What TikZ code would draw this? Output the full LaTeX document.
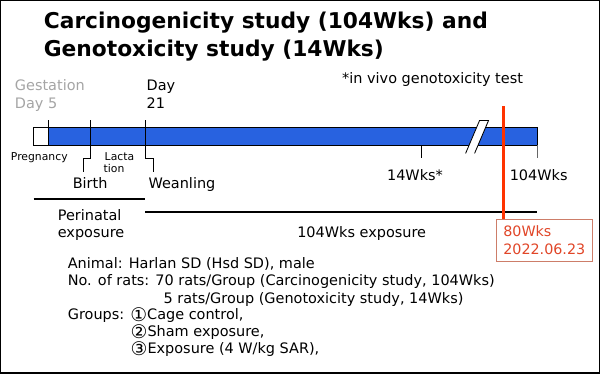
\documentclass[tikz,border=0pt]{standalone}
\usepackage{fontspec}
\setmainfont{DejaVu Sans}
\usetikzlibrary{calc,positioning}
\definecolor{barblue}{RGB}{40,98,224}
\definecolor{markred}{RGB}{255,51,0}
\definecolor{boxred}{RGB}{205,125,105}
\definecolor{textred}{RGB}{225,70,40}
\definecolor{gestgray}{RGB}{165,165,165}
\newcommand{\grpnum}[1]{\raisebox{-0.08em}{\scalebox{1.3}{#1}}}
\tikzset{
	lbl/.style={inner sep=0pt,anchor=base west,font=\fontsize{10.3}{12}\selectfont},
	small lbl/.style={lbl,font=\fontsize{7.7}{9}\selectfont},
	title lbl/.style={lbl,font=\fontsize{15.5}{18}\selectfont\bfseries},
	tick/.style={line width=1pt},
	period/.style={line width=1.6pt},
}
\begin{document}
\begin{tikzpicture}[x=0.025cm,y=-0.025cm]
	\draw[line width=1pt,fill=white] (0,0) rectangle (600,373);
	% title
	\node (title1) at (43,28) [title lbl] {Carcinogenicity study (104Wks) and};
	\node (title2) at (43,56) [title lbl] {Genotoxicity study (14Wks)};
	
	\node (gest1) at (14,90) [lbl,text=gestgray] {Gestation};
	\node (gest2) at (14,108) [lbl,text=gestgray] {Day 5};
	\node (day1) at (146,90) [lbl] {Day};
	\node (day2) at (146,108) [lbl] {21};
	\node (note) at (342,83) [lbl] {*in vivo genotoxicity test};
	
	% time bar
	\coordinate (start) at (33,127);
	\coordinate (gd5) at (48,127);
	\coordinate (end) at (538,145);
	\draw[line width=0.8pt,fill=white] (start) rectangle ($(gd5)+(0,18)$);
	\draw[line width=0.8pt,fill=barblue] (gd5) rectangle (end);
	% break
	\draw[line width=0.6pt,fill=white] (466,153) -- (480,120) -- (489,120) -- (475,153);
	\draw[white,line width=1.2pt] (478,130) -- (480,125);
	
	% ticks
	\draw[tick] (48,120) -- (gd5);
	\draw[tick] (90,120) -- (90,158) -- (83,158) -- (83,172);
	\draw[tick] (145,120) -- (145,158) -- (153,158) -- (153,172);
	\draw[tick] (422,145) -- (422,158);
	\draw[tick,black!60] (end) -- (538,158);
	
	\node (preg) at (10,160) [small lbl] {Pregnancy};
	\node (lact1) at (104,160) [small lbl] {Lacta};
	\node (lact2) at (103,172) [small lbl] {tion};
	\node (birth) at (72,188) [lbl] {Birth};
	\node (wean) at (148,188) [lbl] {Weanling};
	\node (w14) at (387,180) [lbl] {14Wks*};
	\node (w104) at (510,180) [lbl] {104Wks};
	
	% exposure periods
	\draw[period] (33,199) -- (145,199);
	\draw[period] (145,212) -- (538,212);
	\node (peri1) at (57,220) [lbl] {Perinatal};
	\node (peri2) at (57,237) [lbl] {exposure};
	\node (expo) at (297,237) [lbl] {104Wks exposure};
	
	% 80 weeks marker
	\node (markbox) at (496,219) [draw=boxred,line width=0.6pt,text=textred,anchor=north west,minimum width=2.42cm,minimum height=1.05cm,align=left,inner xsep=3pt,inner ysep=2.5pt,font=\fontsize{10.2}{12.8}\selectfont] {80Wks\\2022.06.23};
	\coordinate (w80) at (504,106);
	\draw[markred,line width=2.8pt] (w80) -- (w80 |- markbox.north);
	
	% study details
	\node (info1) at (67,268) [lbl] {Animal: Harlan SD (Hsd SD), male};
	\node (info2) at (67,285) [lbl] {No. of rats: 70 rats/Group (Carcinogenicity study, 104Wks)};
	\node (info3) at (163,303) [lbl] {5 rats/Group (Genotoxicity study, 14Wks)};
	\node (info4) at (67,320) [lbl] {Groups: \grpnum{①}Cage control,};
	\node (info5) at (130,337) [lbl] {\grpnum{②}Sham exposure,};
	\node (info6) at (130,354) [lbl] {\grpnum{③}Exposure (4 W/kg SAR),};
\end{tikzpicture}
\end{document}
